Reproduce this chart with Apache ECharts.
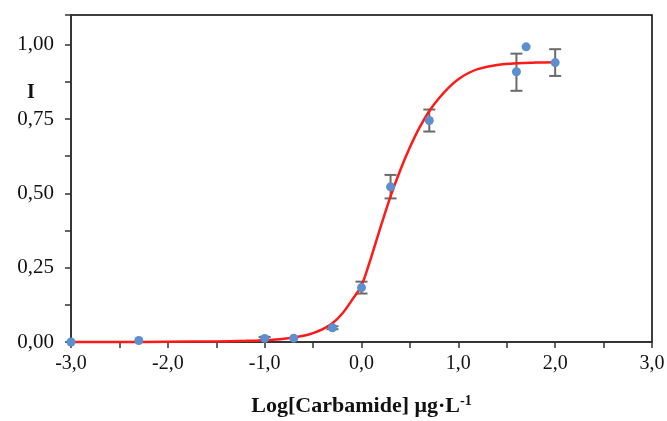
<!DOCTYPE html>
<html><head><meta charset="utf-8">
<script src="https://cdn.jsdelivr.net/npm/echarts@6/dist/echarts.min.js"></script>
<style>html,body{margin:0;padding:0;background:#fff}#c{width:667px;height:421px}</style>
</head><body><div id="c"></div>
<script>
// measured points
const pointX = [-3.0, -2.3, -1.0, -0.7, -0.3, 0.0, 0.3, 0.7, 1.6, 1.7, 2.0];
const pointY = [0.0, 0.005, 0.012, 0.013, 0.048, 0.183, 0.522, 0.745, 0.909, 0.993, 0.940];
// error bars
const errX = [-1.0, -0.3, 0.0, 0.3, 0.7, 1.6, 2.0];
const errLow = [0.007, 0.043, 0.163, 0.483, 0.708, 0.845, 0.895];
const errHigh = [0.017, 0.053, 0.203, 0.562, 0.782, 0.970, 0.985];
// fitted curve
const curveX = [-3.0, -2.5, -2.0, -1.5, -1.2, -1.0, -0.8, -0.6, -0.5, -0.4, -0.3, -0.2, -0.1, 0.0, 0.1, 0.2, 0.3, 0.4, 0.5, 0.6, 0.7, 0.8, 0.9, 1.0, 1.1, 1.2, 1.4, 1.6, 1.8, 2.0];
const curveY = [0.0, 0.0, 0.001, 0.002, 0.004, 0.006, 0.011, 0.021, 0.03, 0.043, 0.063, 0.095, 0.14, 0.19, 0.285, 0.39, 0.49, 0.578, 0.655, 0.722, 0.777, 0.82, 0.856, 0.884, 0.904, 0.918, 0.932, 0.938, 0.940, 0.941];
const yTicksLabelStep = 0.25;

const chart = echarts.init(document.getElementById('c'), null, {renderer: 'canvas'});
const fmt = (v, d) => v.toFixed(d).replace('.', ',');
const font = 'Liberation Serif';
chart.setOption({
  animation: false,
  grid: {left: 71, right: 15, top: 15, bottom: 79, show: true, borderColor: '#000', borderWidth: 1.5, backgroundColor: 'transparent', outerBoundsMode: 'none', containLabel: false},
  xAxis: {
    type: 'value', min: -3, max: 3, interval: 1,
    axisLine: {show: true, onZero: false, lineStyle: {color: '#333', width: 1.5}},
    axisTick: {show: true, length: 6, lineStyle: {color: '#333', width: 1.5}},
    minorTick: {show: true, splitNumber: 2, length: 6, lineStyle: {color: '#333', width: 1.5}},
    splitLine: {show: false},
    axisLabel: {formatter: v => fmt(v, 1), fontFamily: font, fontSize: 20, color: '#111', margin: 12},
    name: '{a|Log[Carbamide] μg·L}{s|-1}', nameLocation: 'middle', nameGap: 52,
    nameTextStyle: {rich: {
      a: {fontFamily: font, fontSize: 22, fontWeight: 'bold', color: '#111'},
      s: {fontFamily: font, fontSize: 14, fontWeight: 'bold', color: '#111', verticalAlign: 'top', padding: [0, 0, 10, 0]}
    }}
  },
  yAxis: {
    type: 'value', min: 0, max: 1.1, interval: 0.125,
    axisLine: {show: true, onZero: false, lineStyle: {color: '#333', width: 1.5}},
    axisTick: {show: true, length: 6, lineStyle: {color: '#333', width: 1.5}},
    splitLine: {show: false},
    axisLabel: {
      formatter: v => {
        const r = v / yTicksLabelStep;
        return Math.abs(r - Math.round(r)) < 1e-6 ? fmt(v, 2) : '';
      },
      fontFamily: font, fontSize: 21, color: '#111', margin: 17
    }
  },
  graphic: [{type: 'text', left: 27, top: 83, style: {text: 'I', fontFamily: font, fontSize: 20, fontWeight: 'bold', fill: '#111'}}],
  series: [
    {
      type: 'custom', z: 2, clip: false,
      data: errX.map((x, i) => [x, errLow[i], errHigh[i]]),
      renderItem: (params, api) => {
        const lo = api.coord([api.value(0), api.value(1)]);
        const hi = api.coord([api.value(0), api.value(2)]);
        const w = 6;
        const st = {stroke: '#6b6b6b', lineWidth: 2};
        return {type: 'group', children: [
          {type: 'line', shape: {x1: lo[0], y1: lo[1], x2: hi[0], y2: hi[1]}, style: st},
          {type: 'line', shape: {x1: lo[0] - w, y1: lo[1], x2: lo[0] + w, y2: lo[1]}, style: st},
          {type: 'line', shape: {x1: hi[0] - w, y1: hi[1], x2: hi[0] + w, y2: hi[1]}, style: st}
        ]};
      }
    },
    {
      type: 'line', z: 3, data: curveX.map((x, i) => [x, curveY[i]]), smooth: 0.3,
      showSymbol: false, symbol: 'none', clip: false,
      lineStyle: {color: '#ff1a1a', width: 2.5}
    },
    {
      type: 'scatter', z: 4, clip: false, data: pointX.map((x, i) => [x, pointY[i]]),
      symbolSize: 9, itemStyle: {color: '#5b8fcf', opacity: 1}
    }
  ]
});
</script></body></html>
